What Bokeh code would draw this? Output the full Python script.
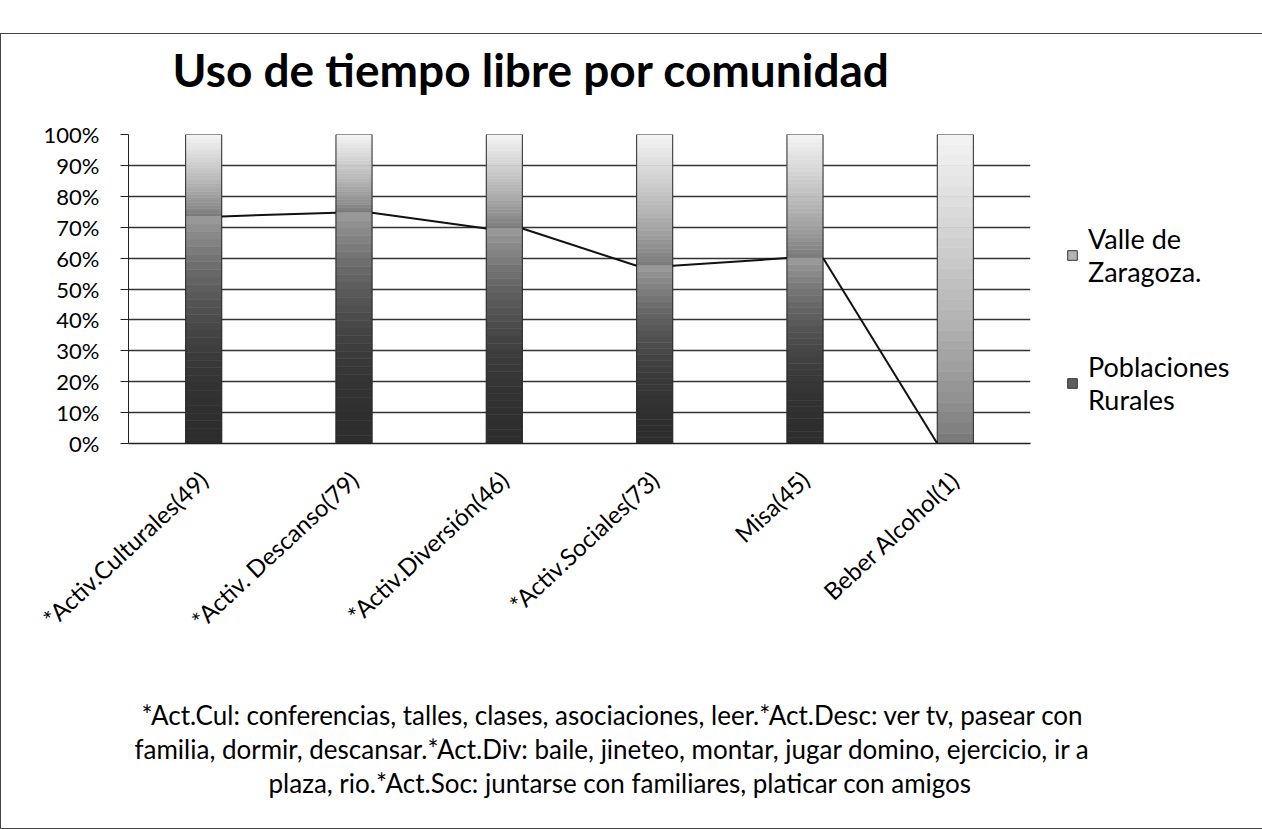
from bokeh.plotting import figure
from bokeh.models import (Range1d, Legend, LegendItem, NumeralTickFormatter,
                          FixedTicker, ColumnDataSource, Spacer, Title)
from bokeh.layouts import column
from bokeh.embed import file_html
from bokeh.resources import INLINE

# ---------------- data ----------------
categories = ["*Activ.Culturales(49)", "*Activ. Descanso(79)", "*Activ.Diversión(46)",
              "*Activ.Sociales(73)", "Misa(45)", "Beber Alcohol(1)"]
rurales = [0.735, 0.747, 0.696, 0.575, 0.600, 0.0]     # Poblaciones Rurales (share)
valle = [0.265, 0.253, 0.304, 0.425, 0.400, 1.0]       # Valle de Zaragoza. (share)
y_ticks = [0.0, 0.1, 0.2, 0.3, 0.4, 0.5, 0.6, 0.7, 0.8, 0.9, 1.0]
series_names = ["Valle de\nZaragoza.", "Poblaciones\nRurales"]
title_text = "Uso de tiempo libre por comunidad"
nota = ["*Act.Cul: conferencias, talles, clases, asociaciones, leer.*Act.Desc: ver tv, pasear con",
        "familia, dormir, descansar.*Act.Div: baile, jineteo, montar, jugar domino, ejercicio, ir a",
        "plaza, rio.*Act.Soc: juntarse con familiares, platicar con amigos"]

FONT = "Lato"
BAR_W = 0.24


def hex2rgb(h):
    h = h.lstrip("#")
    return [int(h[i:i + 2], 16) for i in (0, 2, 4)]


def mix(c0, c1, t):
    a, b = hex2rgb(c0), hex2rgb(c1)
    return "#%02x%02x%02x" % tuple(int(round(a[i] + (b[i] - a[i]) * t)) for i in range(3))


p = figure(x_range=categories, y_range=Range1d(0, 1),
           frame_width=900, frame_height=307,
           min_border_left=127, min_border_right=233, min_border_top=100, min_border_bottom=387,
           output_backend="svg", toolbar_location=None)
p.outline_line_color = None
p.background_fill_color = "white"
p.border_fill_color = "white"

# title (a blank row between title and frame lifts the title up)
p.title.text = title_text
p.title.align = "left"
p.title.vertical_align = "top"
p.title.offset = 44
p.title.standoff = 14
p.title.text_font = FONT
p.title.text_font_style = "bold"
p.title.text_font_size = "46px"
p.title.text_color = "black"
p.add_layout(Title(text=" ", standoff=15, text_font=FONT, text_font_size="10px"), "above")

# gradient-filled stacked bars (slices derived from the data values)
N = 30
xs, bots, tops, cols = [], [], [], []
for cat, r, v in zip(categories, rurales, valle):
    for k in range(N):
        t = (k + 0.5) / N
        xs.append(cat)
        bots.append(r * k / N)
        tops.append(r * (k + 1) / N)
        cols.append(mix("#2e2e2e", "#9c9c9c", t ** 2.2))
        xs.append(cat)
        bots.append(r + v * k / N)
        tops.append(r + v * (k + 1) / N)
        cols.append(mix("#767676", "#f4f4f4", t ** 0.8))
src = ColumnDataSource(dict(x=xs, bottom=bots, top=tops, color=cols))
p.vbar(x="x", bottom="bottom", top="top", width=BAR_W, fill_color="color",
       line_color="color", line_width=0.6, source=src)

# bar outlines
p.vbar(x=categories, bottom=0, top=[r + v for r, v in zip(rurales, valle)], width=BAR_W,
       fill_color=None, line_color="#2a2a2a", line_width=1)

# series lines joining the tops of the "Poblaciones Rurales" segments
x0 = [i + 0.5 + BAR_W / 2 for i in range(len(categories) - 1)]
x1 = [i + 1.5 - BAR_W / 2 for i in range(len(categories) - 1)]
p.segment(x0=x0, y0=rurales[:-1], x1=x1, y1=rurales[1:], line_color="#111111", line_width=2)

# axes / grid
p.xgrid.grid_line_color = None
p.ygrid.ticker = FixedTicker(ticks=y_ticks)
p.ygrid.grid_line_color = "#333333"
p.ygrid.grid_line_width = 1.3

p.yaxis.ticker = FixedTicker(ticks=y_ticks)
p.yaxis.formatter = NumeralTickFormatter(format="0%")
p.yaxis.major_label_text_font = FONT
p.yaxis.major_label_text_font_size = "22px"
p.yaxis.major_label_text_color = "black"
p.yaxis.major_tick_out = 8
p.yaxis.major_tick_in = 0
p.yaxis.minor_tick_out = 0
p.yaxis.minor_tick_in = 0
p.yaxis.axis_line_color = "#222222"
p.yaxis.major_tick_line_color = "#222222"
p.yaxis.major_label_standoff = 21

p.xaxis.major_tick_out = 0
p.xaxis.major_tick_in = 0
p.xaxis.axis_line_color = "#222222"
p.xaxis.axis_line_width = 1.3
p.xaxis.major_label_orientation = 0.75
p.xaxis.major_label_text_font = FONT
p.xaxis.major_label_text_font_size = "24px"
p.xaxis.major_label_text_color = "black"
p.xaxis.major_label_standoff = 32

# footnote lines as titles below the axis (blank first row = vertical gap)
p.add_layout(Title(text=" ", standoff=20, text_font=FONT, text_font_size="22px"), "below")
for txt, off in zip(nota, [13, 6, 140]):
    p.add_layout(Title(text=txt, align="left", offset=off, standoff=0,
                       text_font=FONT, text_font_style="normal", text_font_size="26px",
                       text_color="black"), "below")

# legend
first = [categories[0]]
r_valle = p.vbar(x=first, bottom=[0], top=[0], width=0.2, fill_color="#b4b4b4",
                 line_color="#333333")
r_rural = p.vbar(x=first, bottom=[0], top=[0], width=0.2, fill_color="#5e5e5e",
                 line_color="#333333")
legend = Legend(items=[LegendItem(label=series_names[0], renderers=[r_valle]),
                       LegendItem(label=series_names[1], renderers=[r_rural])],
                location=(36, 27), border_line_color=None, background_fill_alpha=0,
                label_text_font=FONT, label_text_font_size="27px", label_text_color="black",
                label_text_line_height=0.95,
                glyph_width=12, glyph_height=12, spacing=62, margin=0, padding=5,
                label_standoff=10)
p.add_layout(legend, "right")

p.styles = {"border": "1.5px solid #444444"}

layout = column(Spacer(height=33), p)
open("out.html", "w").write(file_html(layout, INLINE))
